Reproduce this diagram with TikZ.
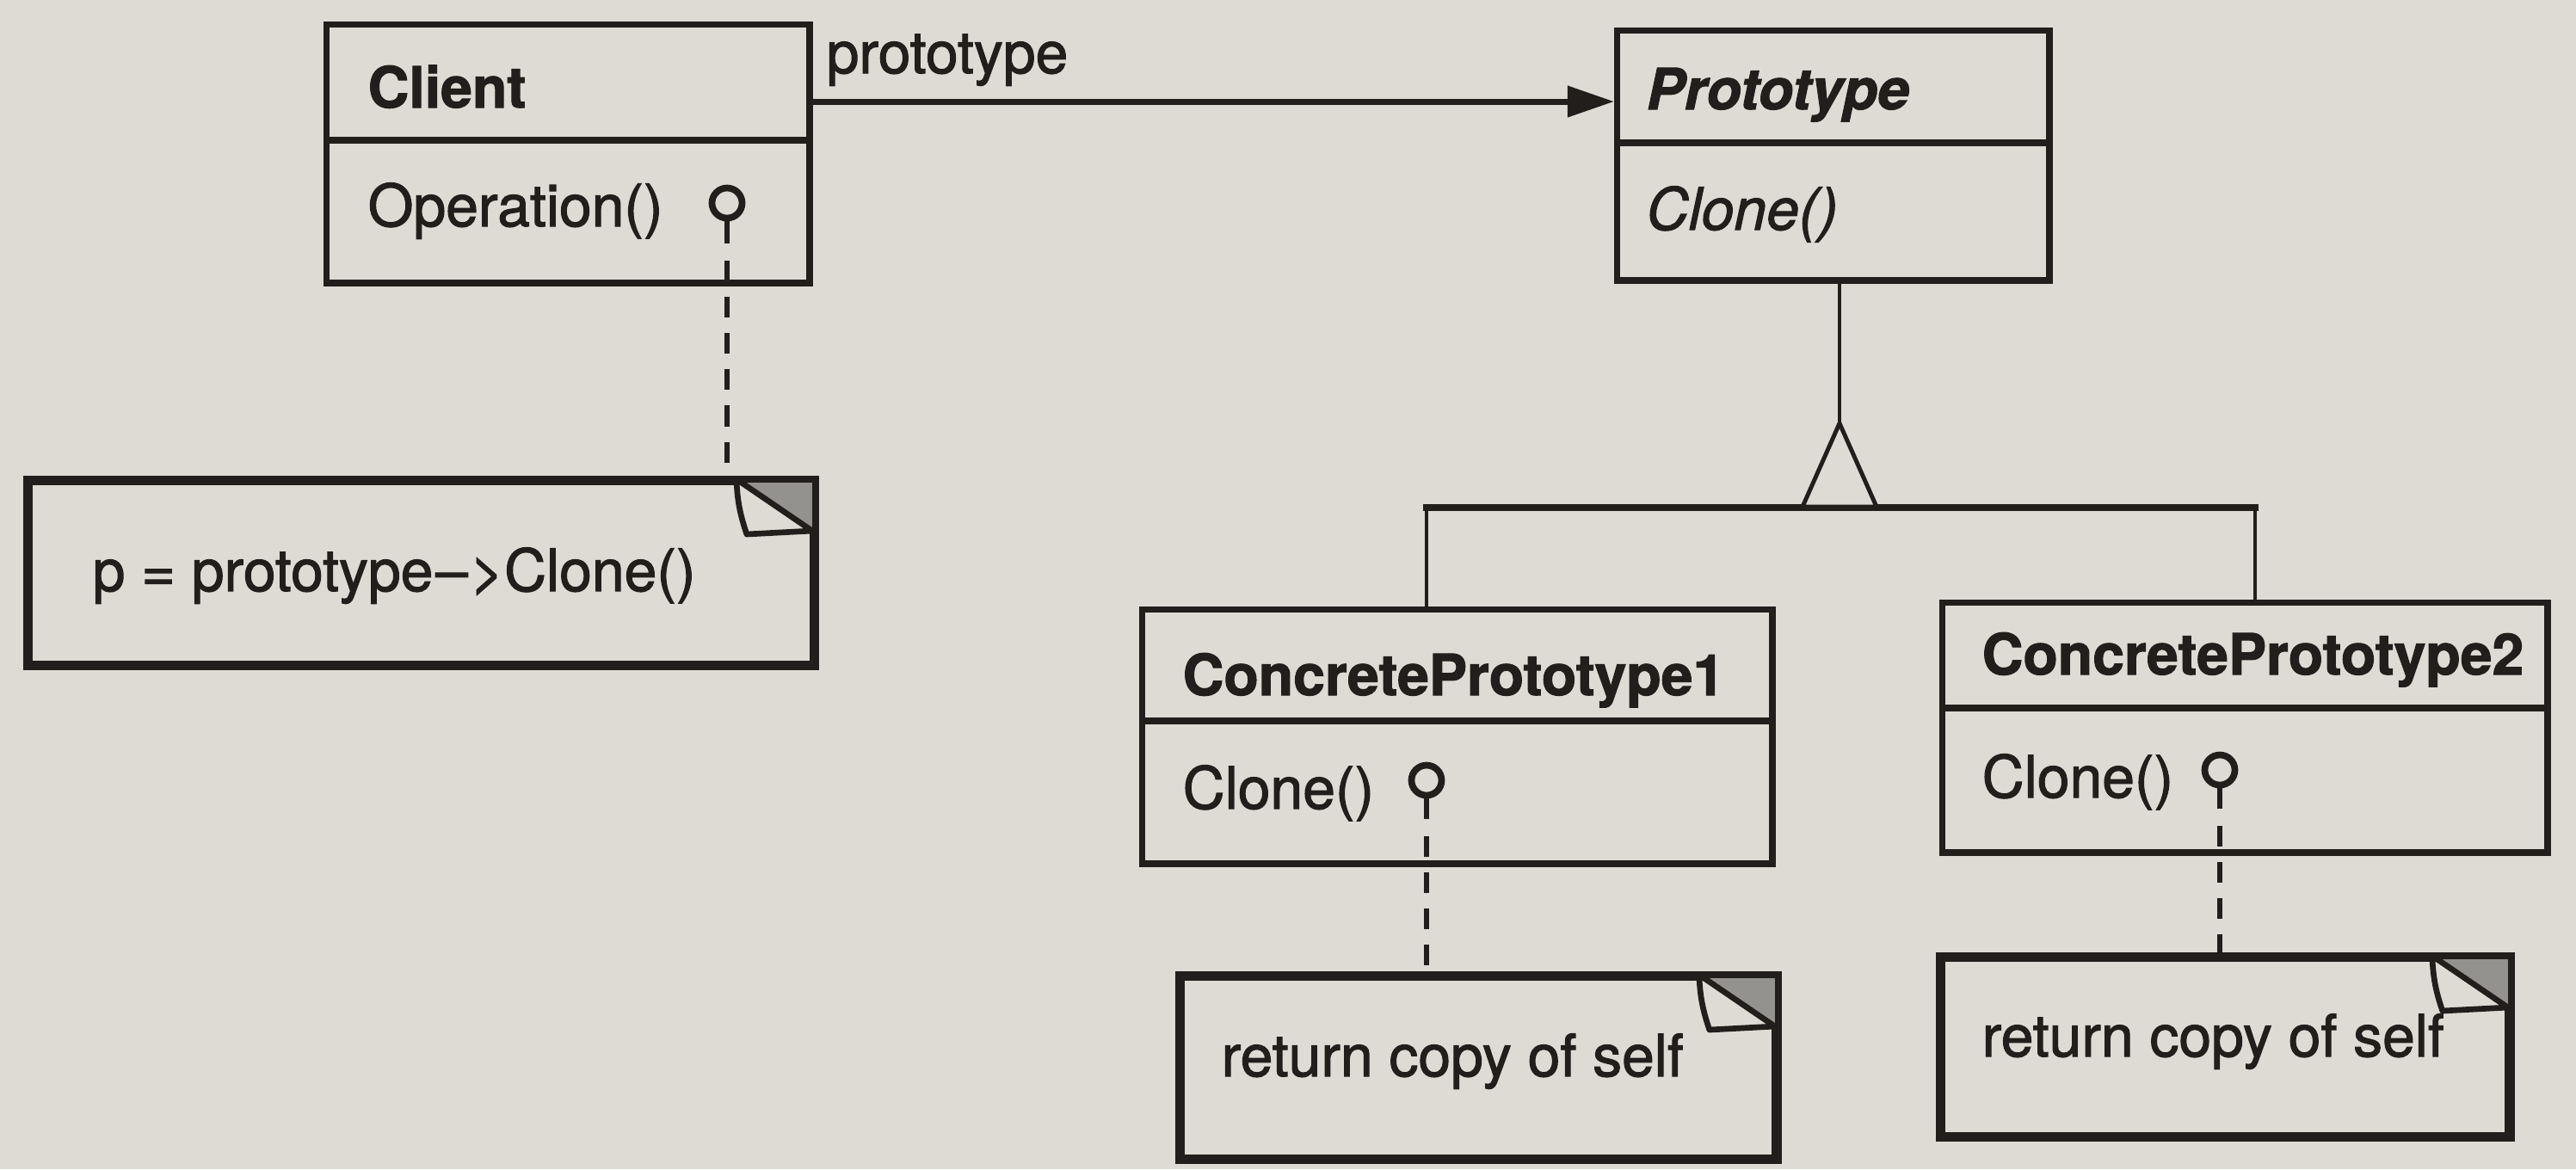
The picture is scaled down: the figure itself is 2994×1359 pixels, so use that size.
\documentclass[tikz,border=0pt]{standalone}
\usepackage{fontspec}
\setmainfont{TeX Gyre Heros}[FakeBold=1.6]
\usetikzlibrary{arrows.meta,calc}

\definecolor{paper}{RGB}{221,219,212}
\definecolor{ink}{RGB}{34,30,27}
\definecolor{foldshade}{RGB}{148,146,142}

\tikzset{
  classbox/.style={draw=ink, line width=2.1pt, rectangle, inner sep=0pt, anchor=north west},
  notebox/.style={draw=ink, line width=2.1pt, rectangle, inner sep=0pt, anchor=north west},
  divider/.style={draw=ink, line width=2.1pt},
  basetext/.style={anchor=base west, inner sep=0pt, text=ink, font=\fontsize{19.3}{23}\selectfont},
  classname/.style={basetext, font=\fontsize{18.8}{23}\selectfont\bfseries},
  abstractname/.style={basetext, font=\fontsize{18.8}{23}\selectfont\bfseries\itshape},
  abstractop/.style={basetext, font=\fontsize{19.3}{23}\selectfont\itshape},
  lolly/.style={circle, draw=ink, line width=2.2pt, minimum size=0.35cm, inner sep=0pt},
  stemline/.style={draw=ink, line width=1.8pt},
  noteline/.style={draw=ink, line width=1.5pt, dash pattern=on 0.24cm off 0.18cm},
  assoc/.style={draw=ink, line width=2pt, -{Triangle[length=0.54cm, width=0.35cm]}},
  genline/.style={draw=ink, line width=1.4pt},
  genbar/.style={draw=ink, line width=2.3pt, line cap=rect},
}

% folded corner of a note: shaded back and the turned-down flap
\newcommand\noteear[1]{%
  \fill[foldshade] ($(#1.north east)+(-92,0)$) -- (#1.north east) -- ($(#1.north east)+(0,66)$) -- cycle;
  \filldraw[fill=paper, draw=ink, line width=1.9pt, line join=round]
    ($(#1.north east)+(-92,0)$) to[bend right=8] ($(#1.north east)+(-80,64)$)
    -- ($(#1.north east)+(-4,60)$) -- cycle;
  \draw[ink, line width=2.1pt] (#1.north west) rectangle (#1.south east);
}

\begin{document}
\begin{tikzpicture}[x=0.01cm, y=-0.01cm]
  \useasboundingbox (0,0) rectangle (2994,1359);
  \fill[paper] (0,0) rectangle (2994,1359);

  % Client
  \node[classbox, minimum width=5.61cm, minimum height=3.00cm] (client) at (376,25) {};
  \draw[divider] (client.west |- 0,163) -- (client.east |- 0,163);
  \node[classname] (clientname) at (427,125) {Client};
  \node[basetext] (clientop) at (427,263) {Operation()};
  \node[lolly] (clientdot) at (845,236) {};

  % Prototype
  \node[classbox, minimum width=5.02cm, minimum height=2.90cm] (proto) at (1876,32) {};
  \draw[divider] (proto.west |- 0,166) -- (proto.east |- 0,166);
  \node[abstractname] (protoname) at (1913,127) {Prototype};
  \node[abstractop] (protoop) at (1913,267) {Clone()};

  % association
  \coordinate (assocy) at (0,118);
  \draw[assoc] (client.east |- assocy) -- (proto.west |- assocy);
  \node[basetext] (assoclabel) at (960,85) {prototype};

  % ConcretePrototype1
  \node[classbox, minimum width=7.32cm, minimum height=2.95cm] (cp1) at (1324,705) {};
  \draw[divider] (cp1.west |- 0,838) -- (cp1.east |- 0,838);
  \node[classname] (cp1name) at (1374,808) {ConcretePrototype1};
  \node[basetext] (cp1op) at (1374,940) {Clone()};
  \node[lolly] (cp1dot) at (1658,907) {};

  % ConcretePrototype2
  \node[classbox, minimum width=7.03cm, minimum height=2.90cm] (cp2) at (2254,697) {};
  \draw[divider] (cp2.west |- 0,823) -- (cp2.east |- 0,823);
  \node[classname] (cp2name) at (2303,784) {ConcretePrototype2};
  \node[basetext] (cp2op) at (2303,927) {Clone()};
  \node[lolly] (cp2dot) at (2580,895) {};

  % generalization
  \coordinate (genapex) at (2138,492);
  \coordinate (genleft) at (2095,589);
  \coordinate (genright) at (2181,589);
  \coordinate (j1) at (1658,590);
  \coordinate (j2) at (2621,590);
  \draw[genline] (proto.south -| genapex) -- (genapex);
  \draw[genbar] (j1) -- (j2);
  \draw[genline] (j1) -- (j1 |- cp1.north);
  \draw[genline] (j2) -- (j2 |- cp2.north);
  \filldraw[fill=paper, draw=ink, line width=1.4pt, line join=miter] (genapex) -- (genleft) -- (genright) -- cycle;

  % notes
  \node[notebox, minimum width=9.09cm, minimum height=2.11cm] (clientnote) at (31,557) {};
  \node[basetext] (clientnotetext) at (107,687) {p = prototype\kern0.04em--\kern0.04em>Clone()};
  \noteear{clientnote}

  \node[notebox, minimum width=6.89cm, minimum height=2.09cm] (cp1note) at (1370,1133) {};
  \node[basetext] (cp1notetext) at (1419,1251) {return copy of self};
  \noteear{cp1note}

  \node[notebox, minimum width=6.57cm, minimum height=2.05cm] (cp2note) at (2254,1111) {};
  \node[basetext] (cp2notetext) at (2303,1228) {return copy of self};
  \noteear{cp2note}

  % note attachments
  \draw[stemline] (clientdot.south) -- ++(0,26) coordinate (clientstem);
  \draw[noteline] (clientstem) ++(0,20) -- (clientstem |- clientnote.north);
  \draw[stemline] (cp1dot.south) -- ++(0,24) coordinate (cp1stem);
  \draw[noteline] (cp1stem) ++(0,20) -- (cp1stem |- cp1note.north);
  \draw[stemline] (cp2dot.south) -- ++(0,24) coordinate (cp2stem);
  \draw[noteline] (cp2stem) ++(0,20) -- (cp2stem |- cp2note.north);
\end{tikzpicture}
\end{document}
